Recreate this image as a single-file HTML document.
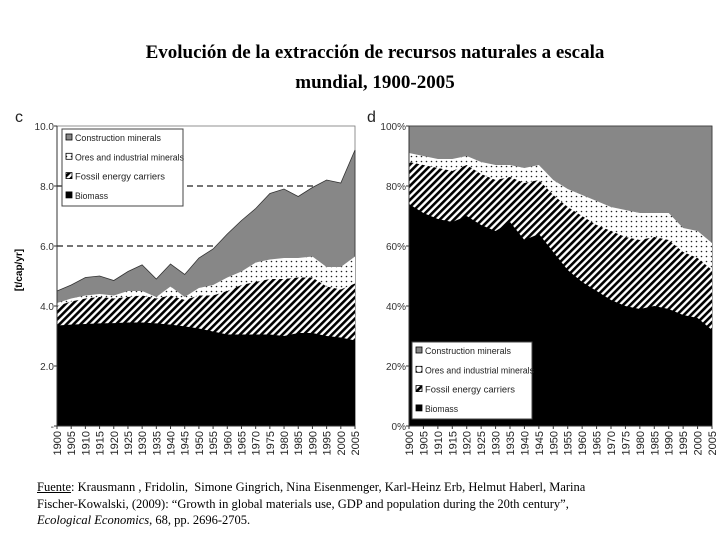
<!DOCTYPE html>
<html><head><meta charset="utf-8"><style>
body{margin:0;background:#fff;width:720px;height:540px;overflow:hidden;position:relative;font-family:"Liberation Sans",sans-serif}
#title{position:absolute;left:40px;width:670px;top:38px;text-align:center;font:bold 19px/30px "Liberation Serif",serif;color:#000}
#foot{position:absolute;left:37px;top:479px;font:12.5px/16.5px "Liberation Serif",serif;color:#000}
svg{position:absolute;left:0;top:0}
</style></head><body>
<div id="title">Evolución de la extracción de recursos naturales a escala<br>mundial, 1900-2005</div>
<svg id="svg" width="720" height="540">
<defs>
<pattern id="hatch" patternUnits="userSpaceOnUse" width="5" height="5" patternTransform="rotate(45)"><rect width="5" height="5" fill="#fff"/><rect width="2.6" height="5" fill="#000"/></pattern>
<pattern id="dots" patternUnits="userSpaceOnUse" width="5" height="5"><rect width="5" height="5" fill="#fff"/><circle cx="1.5" cy="1.5" r="0.8" fill="#222"/></pattern>
</defs>
</svg>
<div id="foot"><u>Fuente</u>: Krausmann , Fridolin,&nbsp; Simone Gingrich, Nina Eisenmenger, Karl-Heinz Erb, Helmut Haberl, Marina<br>Fischer-Kowalski, (2009): “Growth in global materials use, GDP and population during the 20th century”,<br><i>Ecological Economics</i>, 68, pp. 2696-2705.</div>
<script>
const years=[1900,1905,1910,1915,1920,1925,1930,1935,1940,1945,1950,1955,1960,1965,1970,1975,1980,1985,1990,1995,2000,2005];
// Chart c: cumulative tops, t/cap/yr
const cBiomass=[3.35,3.38,3.4,3.42,3.43,3.45,3.45,3.42,3.38,3.32,3.25,3.15,3.05,3.05,3.05,3.05,3.0,3.1,3.1,3.0,2.95,2.85];
const cFossil=[4.0,4.15,4.25,4.3,4.25,4.3,4.35,4.25,4.35,4.2,4.35,4.35,4.5,4.7,4.8,4.9,4.9,4.95,4.95,4.65,4.55,4.75];
const cOres=[4.1,4.25,4.35,4.4,4.35,4.5,4.5,4.3,4.65,4.3,4.6,4.7,4.95,5.15,5.45,5.55,5.6,5.6,5.65,5.3,5.3,5.65];
const cTotal=[4.5,4.7,4.95,5.0,4.85,5.15,5.37,4.9,5.4,5.05,5.6,5.9,6.4,6.85,7.25,7.75,7.9,7.65,7.95,8.2,8.1,9.2];
const cTicks=["-","2.0","4.0","6.0","8.0","10.0"];
// Chart d: cumulative shares, %
const dBiomass=[74,71,69,68,70,67,65,68,62,64,58,52,48,45,42,40,39,40,39,37,36,32];
const dFossil=[88,87,86,85,87,84,82,83,81,82,77,73,70,67,65,63,62,63,62,58,56,52];
const dOres=[91,90,89,89,90,88,87,87,86,87,82,79,77,75,73,72,71,71,71,66,65,61];
const dTotal=[100,100,100,100,100,100,100,100,100,100,100,100,100,100,100,100,100,100,100,100,100,100];
const dTicks=["0%","20%","40%","60%","80%","100%"];
const legendLabels=["Construction minerals","Ores and industrial minerals","Fossil energy carriers","Biomass"];
const legendLens=[86,109,90,33];

const svg=document.getElementById('svg');
const NS='http://www.w3.org/2000/svg';
function mk(tag,attrs,parent){const e=document.createElementNS(NS,tag);for(const k in attrs)e.setAttribute(k,attrs[k]);(parent||svg).appendChild(e);return e;}

function chart(id,x0,x1,y0,y1,vmax,layers,ticks,dashes,legend,letter,ylab){
  const sx=i=>x0+(x1-x0)*(years[i]-years[0])/(years[years.length-1]-years[0]);
  const sy=v=>y1-(y1-y0)*v/vmax;
  const g=mk('g',{});
  
  
  mk('rect',{x:x0,y:y0,width:x1-x0,height:y1-y0,fill:'none',stroke:'#777','stroke-width':0.8},g);
  dashes.forEach(v=>{const l=mk('line',{x1:x0,x2:x1,y1:sy(v),y2:sy(v),stroke:'#222','stroke-dasharray':'6,4','stroke-width':1.2},g);
    });
  const fills=['#878787','url(#dots)','url(#hatch)','#000'];
  const names=['construction-area','ores-area','fossil-area','biomass-area'];
  layers.forEach((arr,k)=>{
    let d='M'+sx(0)+','+sy(0);
    arr.forEach((v,i)=>{d+=' L'+sx(i).toFixed(1)+','+sy(v).toFixed(1);});
    d+=' L'+sx(arr.length-1)+','+sy(0)+' Z';
    const p=mk('path',{d:d,fill:fills[k],stroke:k==0?'#333':'none','stroke-width':0.8},g);
    
  });
  mk('line',{x1:x0,x2:x0,y1:y0,y2:y1,stroke:'#333'},g);
  mk('line',{x1:x0,x2:x1,y1:y1,y2:y1,stroke:'#333'},g);
  ticks.forEach((t,i)=>{const v=vmax*i/(ticks.length-1);
    mk('line',{x1:x0-3,x2:x0,y1:sy(v),y2:sy(v),stroke:'#333'},g);
    const tx=mk('text',{x:x0-3,y:sy(v)+4,'text-anchor':'end','font-size':10,fill:'#333'},g);tx.textContent=t;
    });
  years.forEach((yr,i)=>{
    mk('line',{x1:sx(i),x2:sx(i),y1:y1,y2:y1+3,stroke:'#333'},g);
    const tx=mk('text',{x:0,y:0,'font-size':11,fill:'#222','text-anchor':'end',transform:`translate(${sx(i)+4},${y1+5}) rotate(-90)`},g);tx.textContent=yr;
    });
  const L=mk('g',{},g);
  
  mk('rect',{x:legend[0],y:legend[1],width:legend[2],height:legend[3],fill:'#fff',stroke:'#444'},L);
  const sw=[ '#878787','url(#dots)','url(#hatch)','#000'];
  legendLabels.forEach((lab,k)=>{const yy=legend[1]+11+k*19.3;
    mk('rect',{x:legend[0]+4,y:yy-6,width:6,height:6,fill:sw[k],stroke:'#000','stroke-width':0.8},L);
    const t=mk('text',{x:legend[0]+13,y:yy+1,'font-size':9,fill:'#222',textLength:legendLens[k],lengthAdjust:'spacingAndGlyphs'},L);t.textContent=lab;
    });
  const lt=mk('text',{x:letter[0],y:letter[1],'font-size':16,fill:'#222'},g);lt.textContent=letter[2];
  
  if(ylab){const t=mk('text',{x:0,y:0,'font-size':10,'font-weight':'bold','text-anchor':'middle',transform:'translate(22,270) rotate(-90)'},g);t.textContent=ylab;
    }
}
chart('chart-c',57,355,126,426,10,[cTotal,cOres,cFossil,cBiomass],cTicks,[6,8],[62,129,121,77],[15,122,'c'],'[t/cap/yr]');
chart('chart-d',409,712,126,426,100,[dTotal,dOres,dFossil,dBiomass],dTicks,[],[412,342,120,77],[367,122,'d'],null);
</script>
</body></html>
